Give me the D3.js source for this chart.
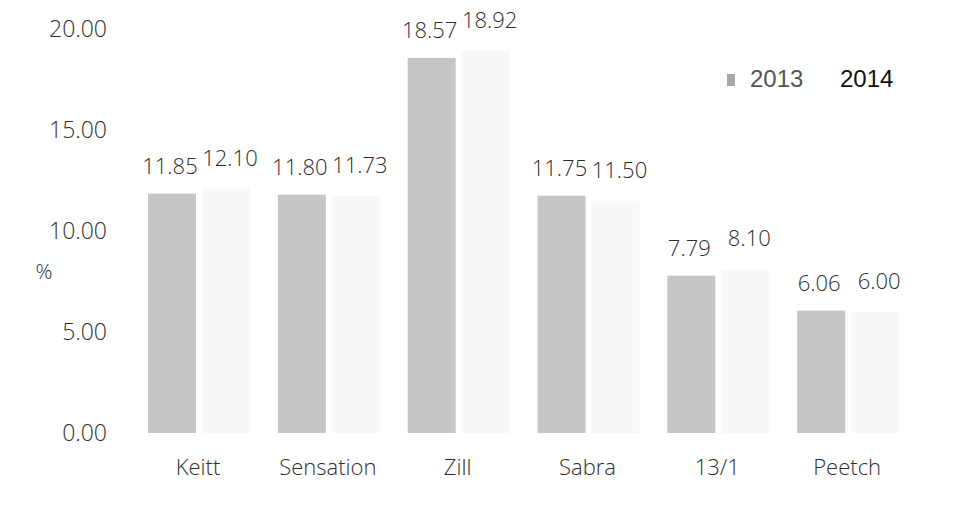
<!DOCTYPE html>
<html>
<head>
<meta charset="utf-8">
<script src="https://cdnjs.cloudflare.com/ajax/libs/d3/7.8.5/d3.min.js"></script>
<style>
  body { margin: 0; background: #ffffff; }
  svg { display: block; }
  .lbl, .tick text { font-family: "Open Sans", sans-serif; font-stretch: 90%; font-weight: 300; fill: #2e2e2e; }
</style>
</head>
<body>
<svg id="chart" width="953" height="508"></svg>
<script>
// data
var categories = ["Keitt", "Sensation", "Zill", "Sabra", "13/1", "Peetch"];
var values2013 = [11.85, 11.80, 18.57, 11.75, 7.79, 6.06];
var values2014 = [12.10, 11.73, 18.92, 11.50, 8.10, 6.00];
var yTicks = [0, 5, 10, 15, 20];
var seriesNames = ["2013", "2014"];

var svg = d3.select("#chart");

var x = d3.scaleBand().domain(categories).range([130, 909]);
var y = d3.scaleLinear().domain([0, 20]).range([433, 29]);

var barW = 48, off13 = 18, off14 = 72;
var col13 = "#c6c6c6", col14 = "#f8f8f8";

// y axis: labels only
var yAxis = svg.append("g")
  .attr("transform", "translate(112,0)")
  .call(d3.axisLeft(y).tickValues(yTicks).tickSize(0).tickPadding(5).tickFormat(d3.format(".2f")));
yAxis.select(".domain").remove();
yAxis.selectAll(".tick text").style("font-size", "23px");

svg.append("text")
  .attr("class", "lbl")
  .attr("x", 44).attr("y", 279)
  .attr("text-anchor", "middle")
  .style("font-size", "21px")
  .text("%");

// x axis: category labels only
var xAxis = svg.append("g")
  .attr("transform", "translate(" + (68 - x.bandwidth() / 2) + ",455)")
  .call(d3.axisBottom(x).tickSize(0).tickPadding(4));
xAxis.select(".domain").remove();
xAxis.selectAll(".tick text").style("font-size", "22px");

// bars
svg.selectAll(".b13").data(values2013).enter().append("rect")
  .attr("class", "b13")
  .attr("x", function(d, i) { return x(categories[i]) + off13; })
  .attr("y", function(d) { return y(d); })
  .attr("width", barW)
  .attr("height", function(d) { return y(0) - y(d); })
  .attr("fill", col13);

svg.selectAll(".b14").data(values2014).enter().append("rect")
  .attr("class", "b14")
  .attr("x", function(d, i) { return x(categories[i]) + off14; })
  .attr("y", function(d) { return y(d); })
  .attr("width", barW)
  .attr("height", function(d) { return y(0) - y(d); })
  .attr("fill", col14);

// value labels
svg.selectAll(".l13").data(values2013).enter().append("text")
  .attr("class", "lbl")
  .attr("x", function(d, i) { return x(categories[i]) + 40; })
  .attr("y", function(d) { return y(d) - 20; })
  .attr("text-anchor", "middle")
  .style("font-size", "22px")
  .text(function(d) { return d.toFixed(2); });

svg.selectAll(".l14").data(values2014).enter().append("text")
  .attr("class", "lbl")
  .attr("x", function(d, i) { return x(categories[i]) + 100; })
  .attr("y", function(d) { return y(d) - 23; })
  .attr("text-anchor", "middle")
  .style("font-size", "22px")
  .text(function(d) { return d.toFixed(2); });

// legend
var legend = svg.append("g").attr("transform", "translate(727,87)");
legend.append("rect").attr("x", 0).attr("y", -13).attr("width", 8).attr("height", 12).attr("fill", "#a8a8a8");
legend.append("text").attr("x", 23).attr("y", 0)
  .style("font-family", "Liberation Sans, Arial, sans-serif").style("font-size", "24px").style("fill", "#555")
  .text(seriesNames[0]);
legend.append("text").attr("x", 113).attr("y", 0)
  .style("font-family", "Liberation Sans, Arial, sans-serif").style("font-size", "24px").style("fill", "#111")
  .text(seriesNames[1]);
</script>
</body>
</html>
